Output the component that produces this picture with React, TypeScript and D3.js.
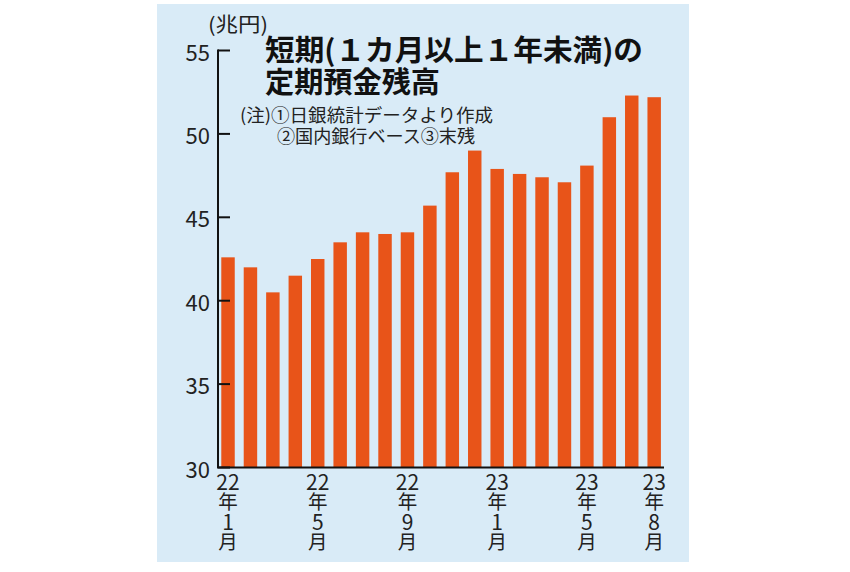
import React from "react";
import * as d3 from "d3";

const months = [
  "22-1", "22-2", "22-3", "22-4", "22-5", "22-6", "22-7", "22-8", "22-9", "22-10",
  "22-11", "22-12", "23-1", "23-2", "23-3", "23-4", "23-5", "23-6", "23-7", "23-8",
];
const values = [
  42.6, 42.0, 40.5, 41.5, 42.5, 43.5, 44.1, 44.0, 44.1, 45.7,
  47.7, 49.0, 47.9, 47.6, 47.4, 47.1, 48.1, 51.0, 52.3, 52.2,
];
const yTicks = [30, 35, 40, 45, 50, 55];
const xLabelMonths = ["22-1", "22-5", "22-9", "23-1", "23-5", "23-8"];
const xLabelLines = [
  ["22", "年", "1", "月"],
  ["22", "年", "5", "月"],
  ["22", "年", "9", "月"],
  ["23", "年", "1", "月"],
  ["23", "年", "5", "月"],
  ["23", "年", "8", "月"],
];
const titleLines = ["短期(１カ月以上１年未満)の", "定期預金残高"];
const noteLines = ["(注)①日銀統計データより作成", "②国内銀行ベース③末残"];
const unitLabel = "(兆円)";

const FONT = "'Noto Sans CJK JP', 'Noto Sans', sans-serif";

export default function App() {
  const axisX = 218;
  const x = d3
    .scaleBand<string>()
    .domain(months)
    .range([216.8, 665.4])
    .paddingInner(0.4)
    .paddingOuter(0.2);
  const y = d3.scaleLinear().domain([30, 55]).range([467.5, 50.5]);

  const lineBaselines = [490, 508.5, 530, 548.5];

  return (
    <svg
      width={850}
      height={572}
      style={{ position: "absolute", left: 0, top: 0, background: "#fff" }}
      fontFamily={FONT}
    >
      <rect x={157} y={4} width={532} height={558} fill="#d9ebf7" />

      {/* bars */}
      {values.map((v, i) => (
        <rect
          key={months[i]}
          x={x(months[i])}
          y={y(v)}
          width={x.bandwidth()}
          height={y(30) - y(v)}
          fill="#e85419"
        />
      ))}

      {/* y axis */}
      <line x1={axisX} x2={axisX} y1={y(55) - 1} y2={y(30)} stroke="#111" strokeWidth={2} />
      {yTicks.map((t) => (
        <g key={t}>
          <line x1={axisX} x2={axisX + 12} y1={y(t)} y2={y(t)} stroke="#111" strokeWidth={2} />
          <text
            x={210}
            y={y(t)}
            textAnchor="end"
            dominantBaseline="central"
            fontSize={22}
            fill="#222"
          >
            {t}
          </text>
        </g>
      ))}
      <line x1={axisX - 1} x2={664} y1={y(30)} y2={y(30)} stroke="#111" strokeWidth={2} />

      {/* x labels */}
      {xLabelMonths.map((m, k) => {
        const cx = (x(m) as number) + x.bandwidth() / 2;
        return (
          <text key={m} textAnchor="middle" fill="#222">
            {xLabelLines[k].map((s, j) => (
              <tspan key={j} x={cx} y={lineBaselines[j]} fontSize={j % 2 === 0 ? 21 : 19.5}>
                {s}
              </tspan>
            ))}
          </text>
        );
      })}

      {/* unit */}
      <text
        x={208}
        y={23}
        dominantBaseline="central"
        fontSize={20}
        fill="#222"
        textLength={60}
        lengthAdjust="spacingAndGlyphs"
      >
        {unitLabel}
      </text>

      {/* title */}
      <text
        x={265}
        y={47.5}
        dominantBaseline="central"
        fontSize={29}
        fontWeight={700}
        fill="#111"
        textLength={378}
        lengthAdjust="spacingAndGlyphs"
      >
        {titleLines[0]}
      </text>
      <text
        x={265}
        y={80}
        dominantBaseline="central"
        fontSize={29}
        fontWeight={700}
        fill="#111"
        textLength={175}
        lengthAdjust="spacingAndGlyphs"
      >
        {titleLines[1]}
      </text>

      {/* notes */}
      <text
        x={240}
        y={113.5}
        dominantBaseline="central"
        fontSize={18}
        fill="#222"
        textLength={253}
        lengthAdjust="spacingAndGlyphs"
      >
        {noteLines[0]}
      </text>
      <text
        x={277}
        y={134.5}
        dominantBaseline="central"
        fontSize={18}
        fill="#222"
        textLength={198}
        lengthAdjust="spacingAndGlyphs"
      >
        {noteLines[1]}
      </text>
    </svg>
  );
}
